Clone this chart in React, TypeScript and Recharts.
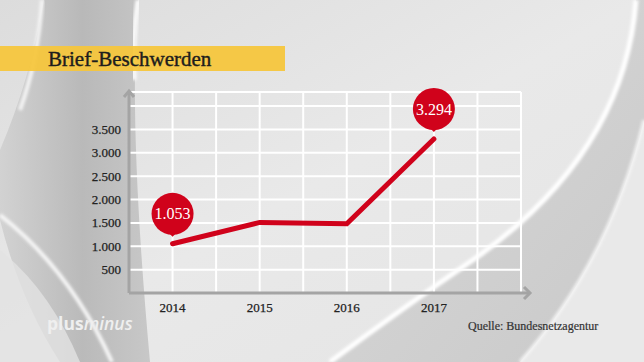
import React from 'react';
import { LineChart, Line, XAxis, YAxis, CartesianGrid, LabelList } from 'recharts';

const years = [2014, 2015, 2016, 2017];
const complaints = [1053, 1510, 1480, 3294];
const bubbleYears = [2014, 2017];
const yTicks = [0, 500, 1000, 1500, 2000, 2500, 3000, 3500, 4000];
const xGridTicks = [2013.5, 2014, 2014.5, 2015, 2015.5, 2016, 2016.5, 2017, 2017.5, 2018];

const data = years.map((year, i) => ({ year, value: complaints[i] }));

const W = 644;
const H = 362;
const MARGIN = { top: 92, right: 123, bottom: 39, left: 69 };
const Y_AXIS_W = 60;
const X_AXIS_H = 30;
const PLOT_LEFT = MARGIN.left + Y_AXIS_W;
const PLOT_RIGHT = W - MARGIN.right;
const PLOT_TOP = MARGIN.top;
const PLOT_BOTTOM = H - MARGIN.bottom - X_AXIS_H;

const RED = '#d0021b';
const AXIS = '#a4a4a4';
const SERIF = '"Liberation Serif", "DejaVu Serif", serif';

// 1053 -> "1.053"
const fmt = (v: number) => String(Math.round(v)).replace(/\B(?=(\d{3})+(?!\d))/g, '.');

const Bubble = (props: any) => {
  const { x, y, value, index } = props;
  if (!bubbleYears.includes(years[index])) return null;
  const cy = y - 30;
  return (
    <g>
      <circle cx={x} cy={cy} r={21} fill={RED} />
      <path d={`M${x - 5},${cy + 18} L${x},${y - 7} L${x + 5},${cy + 18} Z`} fill={RED} />
      <text
        x={x}
        y={cy}
        fill="#fff"
        fontSize={16}
        fontFamily={SERIF}
        textAnchor="middle"
        dominantBaseline="central"
      >
        {fmt(value)}
      </text>
    </g>
  );
};

const Background = () => (
  <svg width={W} height={H} style={{ position: 'absolute', left: 0, top: 0 }}>
    <defs>
      <linearGradient id="bg" x1="0" y1="0" x2="1" y2="1">
        <stop offset="0" stopColor="#dcdcdc" />
        <stop offset="0.5" stopColor="#e9e9e9" />
        <stop offset="1" stopColor="#e4e4e4" />
      </linearGradient>
      <linearGradient id="band" x1="0" y1="0" x2="1" y2="0">
        <stop offset="0" stopColor="#cfcfcf" />
        <stop offset="0.55" stopColor="#b2b2b2" />
        <stop offset="1" stopColor="#c2c2c2" />
      </linearGradient>
      <linearGradient id="lowRight" x1="0" y1="0" x2="1" y2="1">
        <stop offset="0" stopColor="#dadada" />
        <stop offset="1" stopColor="#c9c9c9" />
      </linearGradient>
      <filter id="soft">
        <feGaussianBlur stdDeviation="1.5" />
      </filter>
    </defs>
    <rect width={W} height={H} fill="url(#bg)" />
    {/* left grey swoosh */}
    <path d="M44,0 L138,0 Q128,120 150,362 L60,362 Q20,300 0,220 L0,150 Q30,80 44,0 Z" fill="url(#band)" opacity={0.85} />
    <path d="M138,0 Q132,40 134,80" stroke="#fbfbfb" strokeWidth={5} fill="none" filter="url(#soft)" />
    <path d="M42,0 Q38,60 20,110" stroke="#f4f4f4" strokeWidth={4} fill="none" filter="url(#soft)" />
    <path d="M0,215 Q70,270 112,362" stroke="#f7f7f7" strokeWidth={4} fill="none" filter="url(#soft)" />
    <path d="M0,250 Q50,290 80,362 L0,362 Z" fill="#e2e2e2" opacity={0.8} />
    {/* right swoosh */}
    <path d="M636,0 Q625,150 480,255 Q400,310 330,362 L644,362 L644,0 Z" fill="url(#lowRight)" />
    <path d="M644,120 Q610,260 520,362 L644,362 Z" fill="#ececec" opacity={0.9} />
    <path d="M636,0 Q625,150 480,255 Q400,310 330,362" stroke="#ffffff" strokeWidth={5} fill="none" filter="url(#soft)" />
    <path d="M644,120 Q610,260 520,362" stroke="#f6f6f6" strokeWidth={3} fill="none" filter="url(#soft)" />
  </svg>
);

const Overlay = () => (
  <svg width={W} height={H} style={{ position: 'absolute', left: 0, top: 0, pointerEvents: 'none' }}>
    <line x1={PLOT_RIGHT} y1={PLOT_BOTTOM} x2={PLOT_RIGHT + 8} y2={PLOT_BOTTOM} stroke={AXIS} strokeWidth={3} />
    <polyline
      points={`${PLOT_RIGHT + 3},${PLOT_BOTTOM - 6} ${PLOT_RIGHT + 9},${PLOT_BOTTOM} ${PLOT_RIGHT + 3},${PLOT_BOTTOM + 6}`}
      stroke={AXIS}
      strokeWidth={3}
      fill="none"
    />
    <polyline
      points={`${PLOT_LEFT - 5},${PLOT_TOP + 5} ${PLOT_LEFT},${PLOT_TOP - 1} ${PLOT_LEFT + 5},${PLOT_TOP + 5}`}
      stroke={AXIS}
      strokeWidth={3}
      fill="none"
    />
    <rect x={0} y={46} width={285} height={25} fill="#f6c63a" opacity={0.93} />
    <text x={48} y={66} fontFamily={SERIF} fontSize={21} fill="#1d1d1d" stroke="#1d1d1d" strokeWidth={0.4}>
      Brief-Beschwerden
    </text>
    <text x={468} y={330} fontFamily={SERIF} fontSize={12} fill="#333" stroke="#333" strokeWidth={0.2}>
      Quelle: Bundesnetzagentur
    </text>
    <text x={47} y={330} fontFamily='"Open Sans", sans-serif' fontSize={17.5} fontWeight={700} fill="#efefef">
      <tspan>plus</tspan>
      <tspan fontStyle="italic" fontWeight={600}>minus</tspan>
    </text>
  </svg>
);

const tickStyle = { fill: '#222', fontSize: 13, fontFamily: SERIF, stroke: '#222', strokeWidth: 0.25 };

export default function App() {
  return (
    <div style={{ position: 'absolute', left: 0, top: 0, width: W, height: H, overflow: 'hidden' }}>
      <Background />
      <div style={{ position: 'absolute', left: 0, top: 0 }}>
        <LineChart width={W} height={H} data={data} margin={MARGIN}>
          <CartesianGrid stroke="#ffffff" strokeWidth={2} />
          <XAxis
            dataKey="year"
            type="number"
            domain={[2013.5, 2018]}
            ticks={xGridTicks}
            height={X_AXIS_H}
            interval={0}
            tickLine={false}
            tickMargin={4}
            axisLine={{ stroke: AXIS, strokeWidth: 3 }}
            tick={tickStyle}
            tickFormatter={(v: number) => (years.includes(v) ? String(v) : '')}
          />
          <YAxis
            type="number"
            domain={[0, 4300]}
            ticks={yTicks}
            width={Y_AXIS_W}
            interval={0}
            tickLine={false}
            axisLine={{ stroke: AXIS, strokeWidth: 3 }}
            tick={tickStyle}
            tickFormatter={(v: number) => (v === 0 || v === 4000 ? '' : fmt(v))}
          />
          <Line
            type="linear"
            dataKey="value"
            stroke={RED}
            strokeWidth={5}
            strokeLinecap="round"
            dot={false}
            activeDot={false}
            isAnimationActive={false}
          >
            <LabelList dataKey="value" content={Bubble} />
          </Line>
        </LineChart>
      </div>
      <Overlay />
    </div>
  );
}
